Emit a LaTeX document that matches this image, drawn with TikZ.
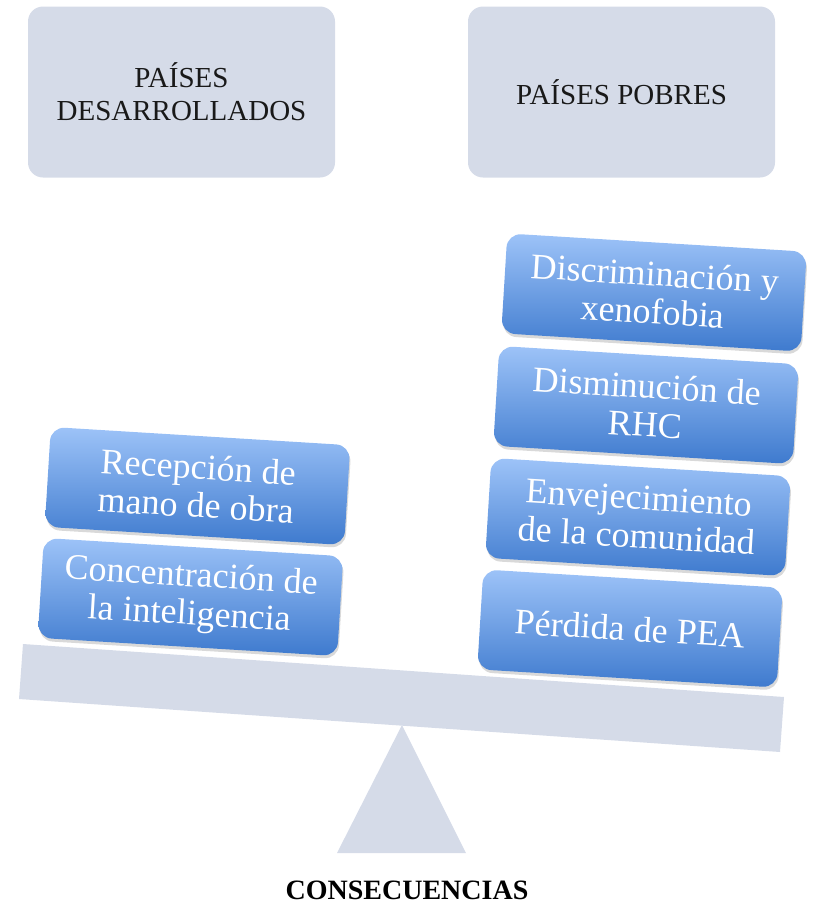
\documentclass[tikz,border=0pt]{standalone}
\usepackage{fontspec}
\setmainfont{Liberation Serif}
\usetikzlibrary{shadows}

\definecolor{panelgray}{RGB}{213,219,232}
\definecolor{boxtop}{RGB}{157,195,248}
\definecolor{boxbottom}{RGB}{62,122,206}

\tikzset{
  country/.style={fill=panelgray, rounded corners=15pt,
    minimum width=307pt, minimum height=171pt, align=center,
    text=black!90, font=\fontsize{29}{33}\selectfont},
  effect/.style={rounded corners=14pt, top color=boxtop, bottom color=boxbottom,
    minimum width=300pt, minimum height=100pt, inner sep=0pt,
    rotate=\tilt, align=center, text=white, font=\fontsize{36}{38}\selectfont,
    drop shadow={shadow xshift=1pt, shadow yshift=-3pt, opacity=0.3}}
}

\begin{document}
\begin{tikzpicture}[x=1pt, y=-1pt]

  % Tilt of the beam and of the loads on it
  \pgfmathsetmacro{\tilt}{-3.5}

  \useasboundingbox (0,0) rectangle (816,906);

  % Headings
  \node[country] (desarrollados) at (181.5,92) {PAÍSES\\DESARROLLADOS};
  \node[country] (pobres) at (621.5,92) {PAÍSES POBRES};

  % Beam and fulcrum
  \fill[panelgray] (23,644) -- (784,697) -- (780,752) -- (19,699) -- cycle;
  \fill[panelgray] (402,725) -- (466,853) -- (337,853) -- cycle;

  % Left pan
  \node[effect] (concentracion) at (190.5,597) {Concentración de\\la inteligencia};
  \node[effect] (recepcion) at (197.5,486) {Recepción de\\mano de obra};

  % Right pan
  \node[effect] (perdida) at (630,628.5) {Pérdida de PEA};
  \node[effect] (envejecimiento) at (638,517) {Envejecimiento\\de la comunidad};
  \node[effect] (disminucion) at (646,405) {Disminución de\\RHC};
  \node[effect] (discriminacion) at (654,292.5) {Discriminación y\\xenofobia};

  % Caption
  \node[anchor=base, font=\bfseries\fontsize{28}{33}\selectfont] (consecuencias)
    at (407,899) {CONSECUENCIAS};

\end{tikzpicture}
\end{document}
